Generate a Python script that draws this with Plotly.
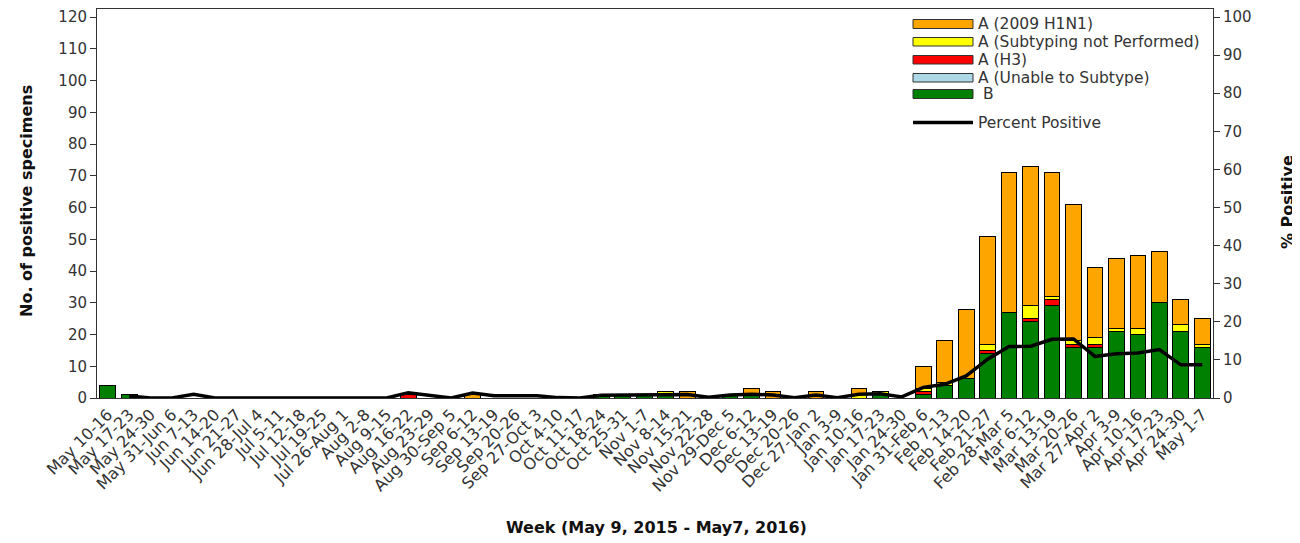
import plotly.graph_objects as go

weeks = ["May 10-16", "May 17-23", "May 24-30", "May 31-Jun 6", "Jun 7-13", "Jun 14-20",
         "Jun 21-27", "Jun 28-Jul 4", "Jul 5-11", "Jul 12-18", "Jul 19-25", "Jul 26-Aug 1",
         "Aug 2-8", "Aug 9-15", "Aug 16-22", "Aug 23-29", "Aug 30-Sep 5", "Sep 6-12",
         "Sep 13-19", "Sep 20-26", "Sep 27-Oct 3", "Oct 4-10", "Oct 11-17", "Oct 18-24",
         "Oct 25-31", "Nov 1-7", "Nov 8-14", "Nov 15-21", "Nov 22-28", "Nov 29-Dec 5",
         "Dec 6-12", "Dec 13-19", "Dec 20-26", "Dec 27-Jan 2", "Jan 3-9", "Jan 10-16",
         "Jan 17-23", "Jan 24-30", "Jan 31-Feb 6", "Feb 7-13", "Feb 14-20", "Feb 21-27",
         "Feb 28-Mar 5", "Mar 6-12", "Mar 13-19", "Mar 20-26", "Mar 27-Apr 2", "Apr 3-9",
         "Apr 10-16", "Apr 17-23", "Apr 24-30", "May 1-7"]

b_vals = [4, 1, 0, 0, 0, 0, 0, 0, 0, 0, 0, 0, 0, 0, 0, 0, 0, 0, 0, 0, 0, 0, 0, 1,
          1, 1, 1, 0, 0, 1, 1, 0, 0, 0, 0, 0, 1, 0, 1, 4, 6, 14, 27, 24, 29, 16, 16, 21,
          20, 30, 21, 16]
unable_vals = [0] * 52
h3_vals = [0, 0, 0, 0, 0, 0, 0, 0, 0, 0, 0, 0, 0, 0, 1, 0, 0, 0, 0, 0, 0, 0, 0, 0,
           0, 0, 0, 0, 0, 0, 0, 0, 0, 0, 0, 0, 0, 0, 1, 0, 0, 1, 0, 1, 2, 1, 1, 0,
           0, 0, 0, 0]
notperf_vals = [0, 0, 0, 0, 0, 0, 0, 0, 0, 0, 0, 0, 0, 0, 0, 0, 0, 0, 0, 0, 0, 0, 0, 0,
                0, 0, 1, 0, 0, 0, 0, 0, 0, 0, 0, 1, 1, 0, 1, 1, 0, 2, 0, 4, 1, 1, 2, 1,
                2, 0, 2, 1]
h1n1_vals = [0, 0, 0, 0, 0, 0, 0, 0, 0, 0, 0, 0, 0, 0, 0, 0, 0, 1, 0, 0, 0, 0, 0, 0,
             0, 0, 0, 2, 0, 0, 2, 2, 0, 2, 0, 2, 0, 0, 7, 13, 22, 34, 44, 44, 39, 43, 22, 22,
             23, 16, 8, 8]
pct_positive = [None, 0.5, 0, 0, 1.0, 0, 0, 0, 0, 0, 0, 0, 0, 0, 1.4, 0.7, 0, 1.3,
                0.6, 0.6, 0.6, 0.1, 0, 0.7, 0.7, 0.7, 0.9, 0.9, 0.2, 0.8, 1.0, 0.8, 0.1,
                0.8, 0.1, 1.0, 1.1, 0.3, 2.8, 3.6, 5.8, 10.2, 13.5, 13.6, 15.4, 15.5,
                10.9, 11.6, 11.8, 12.7, 8.7, 8.7]

series = [
    ("B", b_vals, "#008000"),
    ("A (Unable to Subtype)", unable_vals, "#ADD8E6"),
    ("A (H3)", h3_vals, "#FF0000"),
    ("A (Subtyping not Performed)", notperf_vals, "#FFFF00"),
    ("A (2009 H1N1)", h1n1_vals, "#FFA500"),
]

FONT = "DejaVu Sans, Verdana, sans-serif"
OFF = 8                      # page body margin of the browser
W, H = 1300 - OFF, 543 - OFF
L, R, T, B = 97 - OFF, 1213 - OFF, 1, 398 - OFF   # plot area in figure pixels
TOP_TICK_PX = 17             # screen y of the 120 / 100 ticks

fig = go.Figure()
for name, vals, col in series:
    fig.add_trace(go.Bar(x=weeks, y=vals, name=name, marker_color=col,
                         marker_line_color="#000000", marker_line_width=1,
                         showlegend=False))
fig.add_trace(go.Scatter(x=weeks, y=pct_positive, name="Percent Positive", mode="lines",
                         line=dict(color="#000000", width=3.5), yaxis="y2",
                         connectgaps=False, showlegend=False))


def px_x(p):
    """screen pixel x -> paper"""
    return (p - OFF - L) / (R - L)


def px_y(p):
    """screen pixel y -> paper"""
    return (B - (p - OFF)) / (B - T)


legend_items = [
    ("A (2009 H1N1)", "#FFA500", 19.5, 28.5),
    ("A (Subtyping not Performed)", "#FFFF00", 37.5, 46.0),
    ("A (H3)", "#FF0000", 55.5, 64.0),
    ("A (Unable to Subtype)", "#ADD8E6", 73.5, 82.0),
    (" B", "#008000", 89.5, 98.5),
]
shapes = []
annotations = []
for label, col, y0, y1 in legend_items:
    shapes.append(dict(type="rect", xref="paper", yref="paper",
                       x0=px_x(913), x1=px_x(973), y0=px_y(y1), y1=px_y(y0),
                       fillcolor=col, line=dict(color="#333333", width=1)))
    annotations.append(dict(text=label, xref="paper", yref="paper", x=px_x(976),
                            y=px_y((y0 + y1) / 2), xanchor="left", yanchor="middle",
                            showarrow=False, font=dict(family=FONT, size=15.5, color="#333333")))
shapes.append(dict(type="line", xref="paper", yref="paper", x0=px_x(913), x1=px_x(973),
                   y0=px_y(122.5), y1=px_y(122.5), line=dict(color="#000000", width=3.5)))
annotations.append(dict(text="Percent Positive", xref="paper", yref="paper", x=px_x(976),
                        y=px_y(123), xanchor="left", yanchor="middle", showarrow=False,
                        font=dict(family=FONT, size=15.5, color="#333333")))

title_font = dict(family=FONT, size=16, color="#111111")
annotations.append(dict(text="<b>Week (May 9, 2015 - May7, 2016)</b>", xref="paper", yref="paper",
                        x=px_x(656), y=px_y(527), xanchor="center", yanchor="middle",
                        showarrow=False, font=title_font))
annotations.append(dict(text="<b>No. of positive specimens</b>", xref="paper", yref="paper",
                        x=px_x(26), y=px_y(201), xanchor="center", yanchor="middle",
                        textangle=-90, showarrow=False, font=title_font))
annotations.append(dict(text="<b>% Positive</b>", xref="paper", yref="paper",
                        x=px_x(1287), y=px_y(202), xanchor="center", yanchor="middle",
                        textangle=-90, showarrow=False, font=title_font))

plot_h = B - T
unit_left = (398 - TOP_TICK_PX) / 120.0
unit_right = (398 - TOP_TICK_PX) / 100.0
fig.update_layout(
    width=W, height=H,
    barmode="stack", bargap=0.27,
    plot_bgcolor="white", paper_bgcolor="white",
    margin=dict(l=L, r=W - R, t=T, b=H - B, autoexpand=False),
    font=dict(family=FONT, color="#333333"),
    shapes=shapes, annotations=annotations,
    xaxis=dict(type="category", tickangle=-45, tickfont=dict(size=16, color="#333333"),
               showline=True, linecolor="#333333", linewidth=1, mirror=True,
               ticks="", showgrid=False, automargin=False),
    yaxis=dict(range=[0, plot_h / unit_left], dtick=10, tick0=0, ticks="outside", ticklen=6,
               tickcolor="#333333", tickfont=dict(size=15, color="#333333"),
               showline=True, linecolor="#333333", linewidth=1, showgrid=False,
               zeroline=False, automargin=False, ticklabeloverflow="allow"),
    yaxis2=dict(range=[0, plot_h / unit_right], dtick=10, tick0=0, overlaying="y", side="right",
                ticks="outside", ticklen=6, tickcolor="#333333",
                tickfont=dict(size=15, color="#333333"), showline=True,
                linecolor="#333333", linewidth=1, showgrid=False, zeroline=False,
                automargin=False, ticklabeloverflow="allow"),
)

fig.write_html("out.html")
